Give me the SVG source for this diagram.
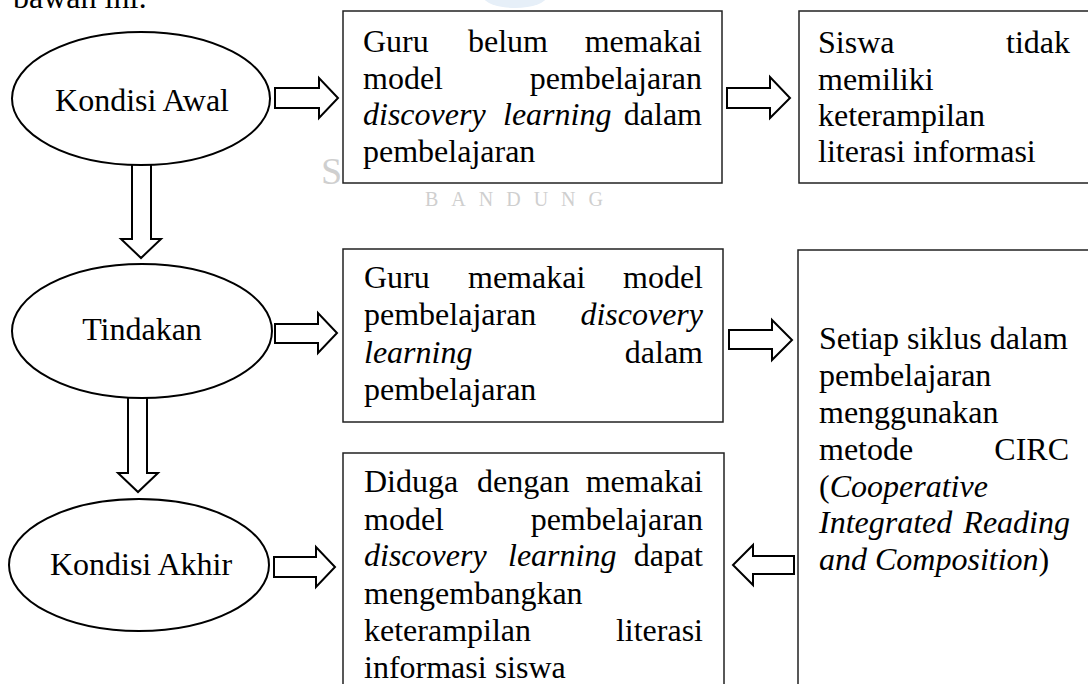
<svg xmlns="http://www.w3.org/2000/svg" width="1088" height="684" viewBox="0 0 1088 684">
<style>
.t{font-family:"Liberation Serif","Times New Roman",serif;font-size:32px;fill:#000}
.i{font-style:italic}
.e{text-anchor:end}
.m{text-anchor:middle}
.ell{fill:#fff;stroke:#000;stroke-width:2}
.box{fill:#fff;stroke:#222;stroke-width:1.5}
.arr{fill:#fff;stroke:#000;stroke-width:2;stroke-linejoin:miter}
.wm{font-family:"Liberation Serif","Times New Roman",serif;fill:#cfcfcf}
</style>
<rect width="1088" height="684" fill="#fff"/>
<ellipse cx="515" cy="-4" rx="32" ry="12" fill="#e6eff8"/>
<text class="t" x="13" y="8">bawah ini:</text>
<text class="wm" x="321" y="184" font-size="38">S</text>
<text class="wm" x="425" y="206" font-size="20" letter-spacing="13">BANDUNG</text>

<g id="connectors">
<polygon class="arr" points="132,163 151,163 151,239 161,239 141,258 121,239 132,239"/>
<polygon class="arr" points="128,397 147,397 147,473 158,473 138,492 118,473 128,473"/>
<polygon class="arr" points="275,88 319,88 319,78 338,98 319,118 319,108 275,108"/>
<polygon class="arr" points="727,88 770,88 770,77 790,98 770,118 770,108 727,108"/>
<polygon class="arr" points="275,324 318,324 318,313 337,333 318,353 318,343 275,343"/>
<polygon class="arr" points="729,330 772,330 772,320 792,340 772,360 772,349 729,349"/>
<polygon class="arr" points="274,557 316,557 316,547 335,567 316,587 316,577 274,577"/>
<polygon class="arr" points="794,556 753,556 753,545 733,565 753,585 753,574 794,574"/>
</g>

<g id="kondisi-awal">
<ellipse class="ell" cx="141" cy="98.5" rx="129" ry="66.5"/>
<text class="t m" x="142" y="111">Kondisi Awal</text>
</g>
<g id="tindakan">
<ellipse class="ell" cx="142" cy="331" rx="130" ry="67"/>
<text class="t m" x="142" y="340">Tindakan</text>
</g>
<g id="kondisi-akhir">
<ellipse class="ell" cx="139" cy="565" rx="130" ry="66"/>
<text class="t m" x="141" y="575">Kondisi Akhir</text>
</g>

<g id="box-guru-belum">
<rect class="box" x="343" y="11" width="379" height="172"/>
<text class="t" x="363" y="52">Guru</text>
<text class="t" x="468" y="52">belum</text>
<text class="t e" x="702" y="52">memakai</text>
<text class="t" x="363" y="88.5">model</text>
<text class="t e" x="702" y="88.5">pembelajaran</text>
<text class="t i" x="363" y="125">discovery</text>
<text class="t i" x="503" y="125">learning</text>
<text class="t e" x="702" y="125">dalam</text>
<text class="t" x="363" y="161.5">pembelajaran</text>
</g>

<g id="box-siswa">
<rect class="box" x="799" y="11" width="300" height="172"/>
<text class="t" x="818" y="53">Siswa</text>
<text class="t e" x="1070" y="53">tidak</text>
<text class="t" x="818" y="89.5">memiliki</text>
<text class="t" x="818" y="126">keterampilan</text>
<text class="t" x="818" y="162">literasi informasi</text>
</g>

<g id="box-guru-memakai">
<rect class="box" x="343" y="249" width="380" height="173"/>
<text class="t" x="364" y="287.5">Guru</text>
<text class="t" x="468" y="287.5">memakai</text>
<text class="t e" x="703" y="287.5">model</text>
<text class="t" x="364" y="325">pembelajaran</text>
<text class="t i e" x="703" y="325">discovery</text>
<text class="t i" x="364" y="362.5">learning</text>
<text class="t e" x="703" y="362.5">dalam</text>
<text class="t" x="364" y="400">pembelajaran</text>
</g>

<g id="box-setiap-siklus">
<rect class="box" x="798" y="250" width="300" height="450"/>
<text class="t" x="819" y="349">Setiap siklus dalam</text>
<text class="t" x="819" y="386">pembelajaran</text>
<text class="t" x="819" y="423">menggunakan</text>
<text class="t" x="819" y="459.5">metode</text>
<text class="t e" x="1069" y="459.5">CIRC</text>
<text class="t" x="819" y="496.5">(<tspan class="i">Cooperative</tspan></text>
<text class="t i" x="819" y="533">Integrated</text>
<text class="t i e" x="1070" y="533">Reading</text>
<text class="t" x="819" y="569.5"><tspan class="i">and Composition</tspan>)</text>
</g>

<g id="box-diduga">
<rect class="box" x="343" y="453" width="381" height="250"/>
<text class="t" x="364" y="492">Diduga</text>
<text class="t" x="477" y="492">dengan</text>
<text class="t e" x="703" y="492">memakai</text>
<text class="t" x="364" y="529.5">model</text>
<text class="t e" x="703" y="529.5">pembelajaran</text>
<text class="t i" x="364" y="566">discovery</text>
<text class="t i" x="508" y="566">learning</text>
<text class="t e" x="703" y="566">dapat</text>
<text class="t" x="364" y="603.5">mengembangkan</text>
<text class="t" x="364" y="641">keterampilan</text>
<text class="t e" x="703" y="641">literasi</text>
<text class="t" x="364" y="677.5">informasi siswa</text>
</g>
</svg>
